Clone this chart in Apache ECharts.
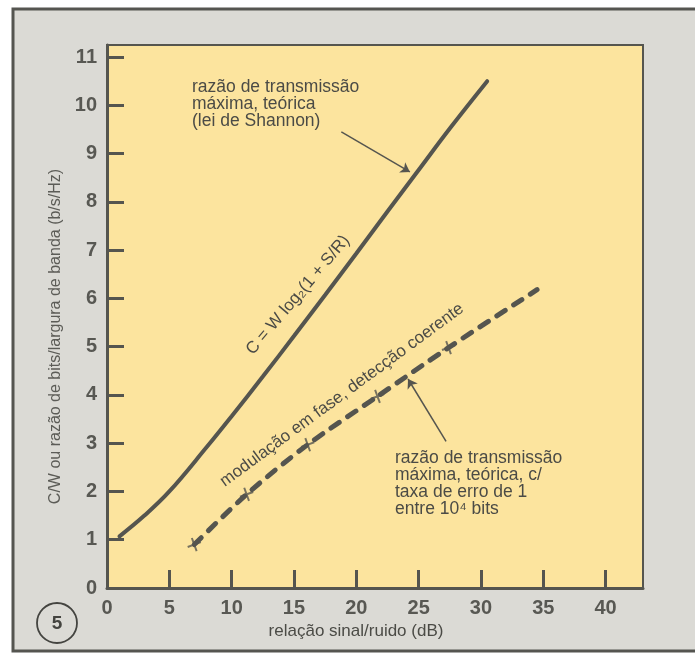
<!DOCTYPE html>
<html>
<head>
<meta charset="utf-8">
<script src="https://cdn.jsdelivr.net/npm/echarts@6/dist/echarts.min.js"></script>
<style>
  html, body { margin: 0; padding: 0; background: #ffffff; }
  #chart { width: 695px; height: 655px; }
</style>
</head>
<body>
<div id="chart"></div>
<script>
// relação sinal/ruido (dB) -> C/W (b/s/Hz), lei de Shannon
const snrShannon = [1, 3, 5, 8, 10, 12.5, 15, 17.5, 20, 22.5, 25, 27.5, 30.5];
const capShannon = [1.07, 1.5, 2.0, 2.92, 3.56, 4.38, 5.22, 6.07, 6.93, 7.8, 8.66, 9.52, 10.5];
// modulação em fase, detecção coerente (erro 1 em 10^4)
const snrPsk = [7.0, 11.2, 16.1, 21.7, 27.4, 34.5];
const capPsk = [0.9, 1.94, 2.97, 3.97, 4.98, 6.18];
// pontos marcados com "+"
const markIdx = [0, 1, 2, 3, 4];
const xLabels = [0, 5, 10, 15, 20, 25, 30, 35, 40];
const xTickVals = [5, 10, 15, 20, 25, 30, 35, 40];
const yLabels = [0, 1, 2, 3, 4, 5, 6, 7, 8, 9, 10, 11];
const yTickVals = [1, 2, 3, 4, 5, 6, 7, 8, 9, 10, 11];

const ink = '#55554f';
const txt = '#4b4b46';
const font = '"Liberation Sans", Arial, sans-serif';
const plus = 'path://M4.3,0h1.4v4.3h4.3v1.4h-4.3v4.3h-1.4v-4.3h-4.3v-1.4h4.3z';

const chart = echarts.init(document.getElementById('chart'));

const option = {
  animation: false,
  backgroundColor: '#ffffff',
  grid: {
    left: 107, top: 45, right: 52, bottom: 67,
    show: true, backgroundColor: '#fce49e', borderColor: ink, borderWidth: 2
  },
  xAxis: {
    type: 'value', min: 0, max: 43, interval: 5,
    name: 'relação sinal/ruido (dB)',
    nameLocation: 'middle', nameGap: 35,
    nameTextStyle: { color: txt, fontSize: 17, fontFamily: font, padding: [0, 38, 0, 0] },
    axisLine: { show: true, lineStyle: { color: ink, width: 3 } },
    axisTick: { show: true, inside: true, length: 18, customValues: xTickVals, lineStyle: { color: ink, width: 3 } },
    axisLabel: { customValues: xLabels, color: '#585853', fontSize: 20, fontWeight: 'bold', fontFamily: font, margin: 10 },
    splitLine: { show: false }
  },
  yAxis: {
    type: 'value', min: 0, max: 11.25, interval: 1,
    name: 'C/W ou razão de bits/largura de banda (b/s/Hz)',
    nameLocation: 'middle', nameGap: 40, nameRotate: 90,
    nameTextStyle: { color: '#5c5c57', fontSize: 16, fontFamily: font, padding: [0, 40, 0, 0] },
    axisLine: { show: true, lineStyle: { color: ink, width: 3 } },
    axisTick: { show: true, inside: true, length: 17, customValues: yTickVals, lineStyle: { color: ink, width: 3 } },
    axisLabel: { customValues: yLabels, color: '#585853', fontSize: 20, fontWeight: 'bold', fontFamily: font, margin: 10 },
    splitLine: { show: false }
  },
  series: [
    {
      name: 'Shannon',
      type: 'line',
      data: snrShannon.map((x, i) => [x, capShannon[i]]),
      smooth: 0.4,
      showSymbol: false,
      lineStyle: { color: ink, width: 4, cap: 'round' },
      markLine: {
        silent: true,
        symbol: ['none', 'arrow'],
        symbolSize: 9,
        label: { show: false },
        lineStyle: { color: ink, width: 1.5, type: 'solid' },
        data: [[{ coord: [18.8, 9.45] }, { coord: [24.3, 8.62] }]]
      }
    },
    {
      name: 'PSK',
      type: 'line',
      data: snrPsk.map((x, i) => [x, capPsk[i]]),
      smooth: 0.3,
      showSymbol: false,
      lineStyle: { color: ink, width: 5, type: [10, 10], cap: 'round' },
      markLine: {
        silent: true,
        symbol: ['none', 'arrow'],
        symbolSize: 9,
        label: { show: false },
        lineStyle: { color: ink, width: 1.5, type: 'solid' },
        data: [[{ coord: [27.2, 3.04] }, { coord: [24.15, 4.33] }]]
      }
    },
    {
      name: 'PSK pontos',
      type: 'scatter',
      data: markIdx.map(i => [snrPsk[i], capPsk[i]]),
      symbol: plus,
      symbolSize: 14,
      symbolRotate: 20,
      z: 5,
      itemStyle: { color: ink }
    }
  ],
  graphic: [
    {
      type: 'rect', z: -100, silent: true,
      shape: { x: 13, y: 9, width: 700, height: 642 },
      style: { fill: '#dbdad5', stroke: '#555550', lineWidth: 3 }
    },
    {
      type: 'text', left: 192, top: 78, silent: true,
      style: { text: 'razão de transmissão\nmáxima, teórica\n(lei de Shannon)', fill: txt, fontSize: 17.5, lineHeight: 17, fontFamily: font }
    },
    {
      type: 'text', left: 395, top: 449, silent: true,
      style: { text: 'razão de transmissão\nmáxima, teórica, c/\ntaxa de erro de 1\nentre 10⁴ bits', fill: txt, fontSize: 17.5, lineHeight: 17, fontFamily: font }
    },
    {
      type: 'text', x: 298, y: 295, rotation: 49.8 * Math.PI / 180, silent: true,
      style: { text: 'C = W log₂(1 + S/R)', fill: txt, fontSize: 17, fontFamily: font, align: 'center', verticalAlign: 'middle' }
    },
    {
      type: 'text', x: 342, y: 395, rotation: 36.3 * Math.PI / 180, silent: true,
      style: { text: 'modulação em fase, detecção coerente', fill: txt, fontSize: 17, fontFamily: font, align: 'center', verticalAlign: 'middle' }
    },
    {
      type: 'circle', silent: true,
      shape: { cx: 57, cy: 623, r: 20 },
      style: { fill: 'none', stroke: '#444440', lineWidth: 1.8 }
    },
    {
      type: 'text', x: 57, y: 624, silent: true,
      style: { text: '5', fill: '#444440', fontSize: 19, fontWeight: 'bold', fontFamily: '"Liberation Sans Narrow", "Liberation Sans", sans-serif', align: 'center', verticalAlign: 'middle' }
    }
  ]
};

chart.setOption(option);
</script>
</body>
</html>
